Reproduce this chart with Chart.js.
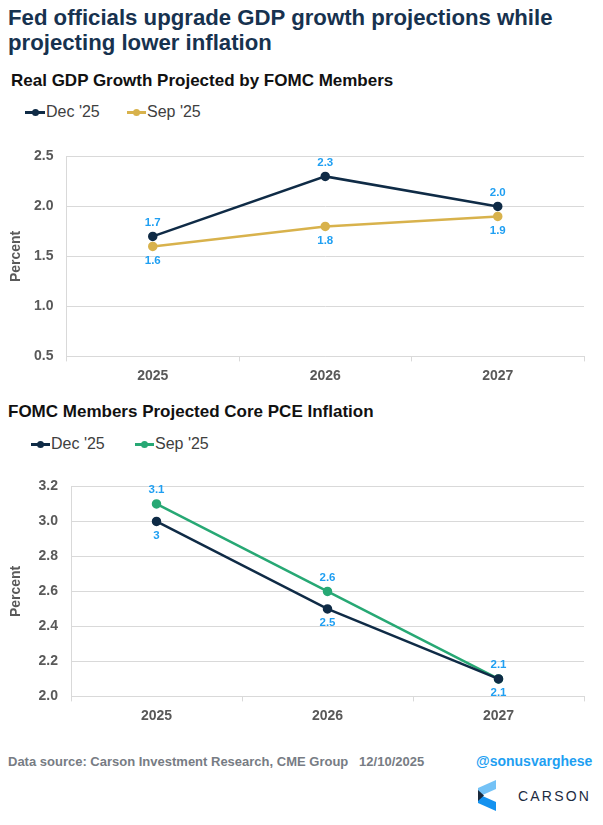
<!DOCTYPE html>
<html>
<head>
<meta charset="utf-8">
<script src="https://cdn.jsdelivr.net/npm/chart.js@4.4.1/dist/chart.umd.min.js"></script>
<style>
  body { margin: 0; background: #fff; font-family: "Liberation Sans", Arial, sans-serif; }
  #page { position: relative; width: 603px; height: 825px; overflow: hidden; }
  .t { position: absolute; white-space: nowrap; line-height: 1; }
  .mark { position: absolute; height: 3px; }
  .mark i { position: absolute; left: 50%; top: 50%; width: 7px; height: 7px; margin: -3.5px 0 0 -3.5px; border-radius: 50%; background: inherit; }
  .wrap { position: absolute; left: 0; width: 603px; }
</style>
</head>
<body>
<div id="page">
  <div class="t" style="left:8px;top:5px;font-size:22.2px;font-weight:bold;color:#17324f;line-height:25px;">Fed officials upgrade GDP growth projections while<br>projecting lower inflation</div>

  <div class="t" style="left:11px;top:71.6px;font-size:17px;font-weight:bold;color:#111;">Real GDP Growth Projected by FOMC Members</div>
  <div id="legend1"></div>
  <div class="wrap" style="top:134.6px;height:255.4px;"><canvas id="gdpChart"></canvas></div>

  <div class="t" style="left:8px;top:402.6px;font-size:17px;font-weight:bold;color:#111;">FOMC Members Projected Core PCE Inflation</div>
  <div id="legend2"></div>
  <div class="wrap" style="top:464.6px;height:265.4px;"><canvas id="pceChart"></canvas></div>

  <div class="t" style="left:8px;top:754.7px;font-size:13px;font-weight:bold;color:#777c84;">Data source: Carson Investment Research, CME Group&nbsp;&nbsp;&nbsp;12/10/2025</div>
  <div class="t" style="left:476px;top:754px;font-size:14px;font-weight:bold;color:#1e9ff2;">@sonusvarghese</div>
  <svg style="position:absolute;left:478px;top:780px;" width="18" height="31" viewBox="0 0 18 31">
    <polygon points="18,0 18,9 0,17 0,8" fill="#74c2f6"/>
    <polygon points="0,14 18,22 18,31 0,23" fill="#1592ef"/>
    <polygon points="0,10 6,15.5 0,21" fill="#1b2a3d"/>
  </svg>
  <div class="t" style="left:518px;top:788.7px;font-size:14px;color:#1c2b3f;letter-spacing:2.2px;">CARSON</div>
</div>

<script>
// categories and values
const years = ['2025', '2026', '2027'];

const gdpDec = [1.7, 2.3, 2.0];
const gdpSep = [1.6, 1.8, 1.9];
const gdpTicks = [0.5, 1.0, 1.5, 2.0, 2.5];

const pceDec = [3.0, 2.5, 2.1];
const pceSep = [3.1, 2.6, 2.1];
const pceTicks = [2.0, 2.2, 2.4, 2.6, 2.8, 3.0, 3.2];

const seriesNames = ["Dec '25", "Sep '25"];

const navy = '#0f2b46';
const gold = '#d8b24c';
const green = '#27a874';
const labelBlue = '#1f9ff2';
const gridGray = '#d9d9d9';
const tickGray = '#595959';

// value labels above / below the points (no datalabels plugin offline)
const pointLabels = {
  id: 'pointLabels',
  afterDatasetsDraw(chart) {
    const ctx = chart.ctx;
    ctx.save();
    ctx.font = 'bold 11.5px "Liberation Sans", Arial, sans-serif';
    ctx.fillStyle = labelBlue;
    ctx.textAlign = 'center';
    ctx.textBaseline = 'middle';
    chart.data.datasets.forEach((ds, i) => {
      const meta = chart.getDatasetMeta(i);
      meta.data.forEach((pt, j) => {
        const dy = ds.labelPos === 'above' ? -14 : 14;
        ctx.fillText(ds.fmt(ds.data[j]), pt.x, pt.y + dy);
      });
    });
    ctx.restore();
  }
};

function buildLegend(el, items) {
  el.innerHTML = items.map(it =>
    `<div class="mark" style="left:${it.x}px;top:${it.y - 1.5}px;width:${it.w}px;background:${it.color}"><i></i></div>` +
    `<div class="t" style="left:${it.tx}px;top:${it.y - 7.8}px;font-size:16px;color:#404040;">${it.name}</div>`
  ).join('');
}

buildLegend(document.getElementById('legend1'), [
  { name: seriesNames[0], color: navy, x: 25, w: 20, tx: 46, y: 112 },
  { name: seriesNames[1], color: gold, x: 127, w: 19, tx: 147, y: 112 }
]);
buildLegend(document.getElementById('legend2'), [
  { name: seriesNames[0], color: navy, x: 31, w: 19, tx: 51, y: 444 },
  { name: seriesNames[1], color: green, x: 135, w: 19, tx: 155, y: 444 }
]);

function lineSet(name, data, color, labelPos, fmt) {
  return {
    label: name,
    data: data,
    borderColor: color,
    backgroundColor: color,
    borderWidth: 2.5,
    pointRadius: 3.5,
    pointHoverRadius: 3.5,
    tension: 0,
    clip: false,
    labelPos: labelPos,
    fmt: fmt
  };
}

function makeOptions(ticks, axisWidth) {
  return {
    responsive: true,
    maintainAspectRatio: false,
    animation: false,
    events: [],
    layout: { autoPadding: false, padding: { top: 16, right: 19, left: 0, bottom: 0 } },
    plugins: { legend: { display: false }, tooltip: { enabled: false } },
    scales: {
      x: {
        offset: true,
        grid: { display: true, offset: true, drawOnChartArea: false, drawTicks: true, tickLength: 5, color: gridGray },
        border: { display: true, color: gridGray },
        ticks: { color: tickGray, padding: 6, font: { family: '"Liberation Sans", Arial', size: 14, weight: 'bold' } },
        afterFit(s) { s.height = 34; }
      },
      y: {
        min: ticks[0],
        max: ticks[ticks.length - 1],
        afterBuildTicks(s) { s.ticks = ticks.map(v => ({ value: v })); },
        grid: { color: gridGray, drawTicks: false },
        border: { display: true, color: gridGray },
        ticks: {
          color: tickGray, padding: 13,
          font: { family: '"Liberation Sans", Arial', size: 14, weight: 'bold' },
          callback: v => Number(v).toFixed(1)
        },
        title: {
          display: true, text: 'Percent', color: tickGray,
          padding: { top: 7.6, bottom: 0 },
          font: { family: '"Liberation Sans", Arial', size: 14, weight: 'bold' }
        },
        afterFit(s) { s.width = axisWidth; }
      }
    }
  };
}

new Chart(document.getElementById('gdpChart'), {
  type: 'line',
  data: {
    labels: years,
    datasets: [
      lineSet(seriesNames[1], gdpSep, gold, 'below', v => v.toFixed(1)),
      lineSet(seriesNames[0], gdpDec, navy, 'above', v => v.toFixed(1))
    ]
  },
  options: makeOptions(gdpTicks, 66.5),
  plugins: [pointLabels]
});

new Chart(document.getElementById('pceChart'), {
  type: 'line',
  data: {
    labels: years,
    datasets: [
      lineSet(seriesNames[0], pceDec, navy, 'below', v => String(v)),
      lineSet(seriesNames[1], pceSep, green, 'above', v => String(v))
    ]
  },
  options: makeOptions(pceTicks, 71),
  plugins: [pointLabels]
});
</script>
</body>
</html>
